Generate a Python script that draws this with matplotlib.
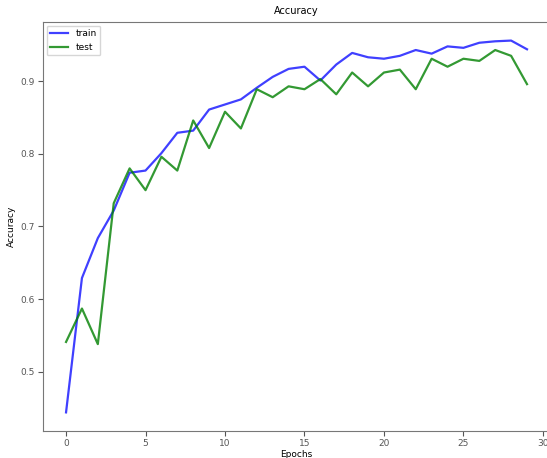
import numpy as np
import matplotlib
matplotlib.use("Agg")
import matplotlib.pyplot as plt

epochs = list(range(30))
train_acc = [0.444, 0.629, 0.684, 0.722, 0.774, 0.777, 0.801, 0.829, 0.832, 0.861,
             0.868, 0.875, 0.891, 0.906, 0.917, 0.920, 0.901, 0.923, 0.939, 0.933,
             0.931, 0.935, 0.943, 0.938, 0.948, 0.946, 0.953, 0.955, 0.956, 0.944]
test_acc = [0.541, 0.587, 0.538, 0.732, 0.780, 0.750, 0.796, 0.777, 0.846, 0.808,
            0.858, 0.835, 0.889, 0.878, 0.893, 0.889, 0.903, 0.882, 0.912, 0.893,
            0.912, 0.916, 0.889, 0.931, 0.920, 0.931, 0.928, 0.943, 0.935, 0.896]

plt.rcParams["font.size"] = 7

fig = plt.figure(figsize=(5.47, 4.58), dpi=100)
ax = fig.add_axes([0.0786, 0.059, 0.927, 0.893])

ax.plot(epochs, train_acc, color="b", alpha=0.75, lw=1.6, label="train")
ax.plot(epochs, test_acc, color="g", alpha=0.8, lw=1.6, label="test")

ax.set_title("Accuracy", fontsize=7, pad=6)
ax.set_xlabel("Epochs", fontsize=6.5, labelpad=1)
ax.set_ylabel("Accuracy", fontsize=6.5, labelpad=3)
ax.set_xticks([0, 5, 10, 15, 20, 25, 30])
ax.set_yticks([0.5, 0.6, 0.7, 0.8, 0.9])
ax.tick_params(colors="#555555", labelsize=6.5, pad=2.5)
for s in ax.spines.values():
    s.set_color("#777777")
ax.legend(loc="upper left", fontsize=6.5, borderaxespad=0.4)

fig.savefig("out.png", dpi=100)
